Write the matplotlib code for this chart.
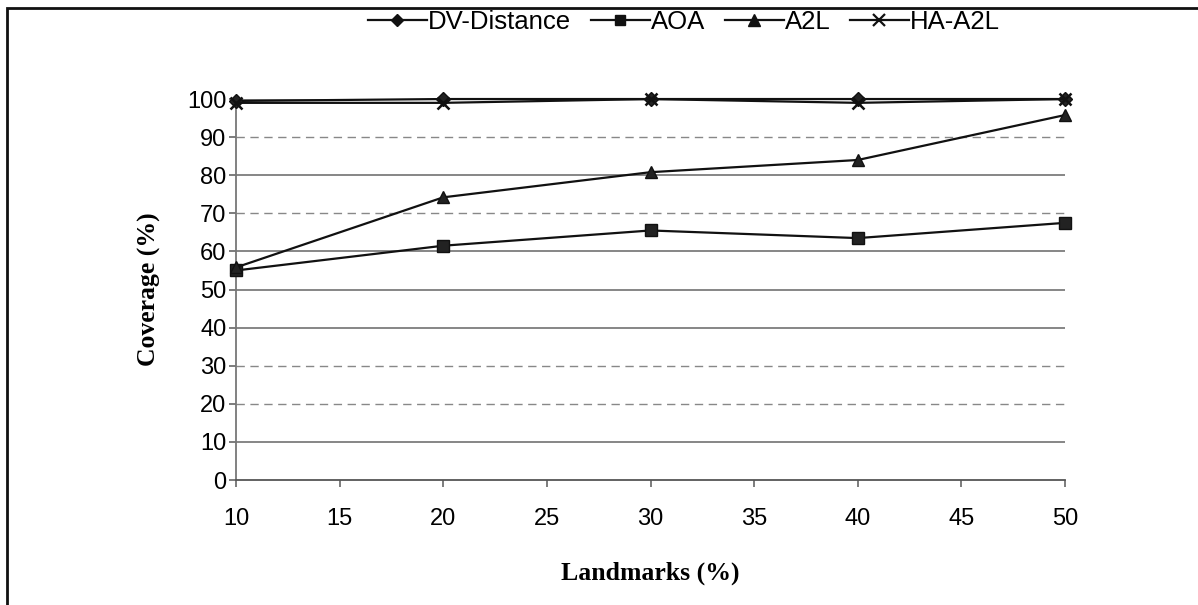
import matplotlib
matplotlib.use("Agg")
import matplotlib.pyplot as plt
from matplotlib.patches import Rectangle
from matplotlib.lines import Line2D

landmarks = [10, 20, 30, 40, 50]
dv_distance = [99.5, 100, 100, 100, 100]
aoa = [55, 61.5, 65.5, 63.5, 67.5]
a2l = [55.8, 74.2, 80.8, 84, 95.8]
ha_a2l = [99, 99, 100, 99, 100]
series_names = ["DV-Distance", "AOA", "A2L", "HA-A2L"]
x_ticks = [10, 15, 20, 25, 30, 35, 40, 45, 50]
y_ticks = [0, 10, 20, 30, 40, 50, 60, 70, 80, 90, 100]
dashed_grid = [20, 30, 70, 90]

fig = plt.figure(figsize=(11.98, 6.05), dpi=100)
ax = fig.add_axes([0.197, 0.2066, 0.692, 0.6297])

sans = ["Liberation Sans", "DejaVu Sans"]
serif = ["Liberation Serif", "DejaVu Serif"]

for y in y_ticks[1:]:
    if y in dashed_grid:
        ax.axhline(y, color="#888888", lw=1.0, ls=(0, (6, 4)), zorder=1)
    else:
        ax.axhline(y, color="#666666", lw=1.1, zorder=1)

markers = ["D", "s", "^", "x"]
msizes = [7, 8, 9, 9]
data = [dv_distance, aoa, a2l, ha_a2l]
for name, vals, m, ms in zip(series_names, data, markers, msizes):
    ax.plot(landmarks, vals, color="#111111", lw=1.6, marker=m, ms=ms,
            mew=1.8 if m == "x" else 1.0, mfc="#222222", mec="#111111",
            label=name, zorder=3, clip_on=False)

ax.set_xlim(10, 50)
ax.set_ylim(0, 100)
ax.set_xticks(x_ticks)
ax.set_yticks(y_ticks)
for s in ["top", "right"]:
    ax.spines[s].set_visible(False)
ax.spines["left"].set_color("#777777")
ax.spines["bottom"].set_color("#555555")
ax.spines["left"].set_linewidth(1.3)
ax.spines["bottom"].set_linewidth(1.3)
ax.tick_params(axis="both", direction="out", length=5, width=1.2, color="#666666",
               labelsize=17)
ax.tick_params(axis="y", pad=2)
ax.tick_params(axis="x", pad=15)
for lab in ax.get_xticklabels() + ax.get_yticklabels():
    lab.set_family(sans)

ax.set_ylabel("Coverage (%)", family=serif, fontweight="bold", fontsize=18.5, labelpad=19)
ax.set_xlabel("Landmarks (%)", family=serif, fontweight="bold", fontsize=18.5, labelpad=23)

handles = [Line2D([], [], color="#111111", lw=1.6, marker=m, ms=ms - 1,
                  mew=1.6 if m == "x" else 1.0, mfc="#111111", mec="#111111")
           for m, ms in zip(markers, msizes)]
fig.legend(handles, series_names, loc="center", bbox_to_anchor=(0.571, 0.963),
           ncol=4, frameon=False, prop={"family": sans, "size": 18.5},
           handlelength=2.3, handletextpad=0.05, columnspacing=0.75)

fig.patches.append(Rectangle((0.006, -0.05), 1.1, 1.036, transform=fig.transFigure,
                             fill=False, ec="#111111", lw=2.0, clip_on=False))

fig.savefig("out.png", dpi=100)
